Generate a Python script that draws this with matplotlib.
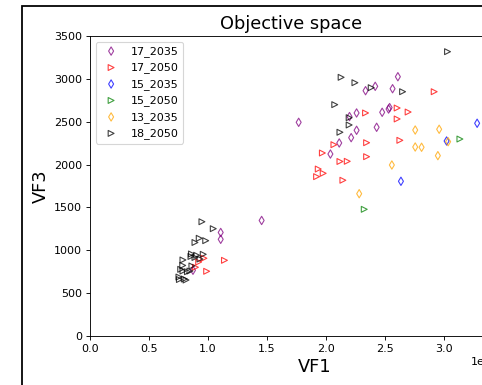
import matplotlib
matplotlib.use("Agg")
import matplotlib.pyplot as plt
from matplotlib.patches import Rectangle

# ---- data (VF1 in units of 1e6) ----
s17_2035_x = [1.108, 1.108, 0.873, 1.455, 1.769, 2.260, 2.336, 2.418, 2.565, 2.610,
              2.477, 2.531, 2.540, 2.200, 2.430, 2.260, 2.214, 2.113, 2.038]
s17_2035_y = [1208, 1128, 767, 1348, 2493, 2602, 2862, 2913, 2885, 3025,
              2610, 2648, 2665, 2560, 2435, 2400, 2314, 2252, 2123]

s17_2050_x = [0.966, 1.140, 0.921, 0.894, 0.989, 2.918, 2.336, 2.604, 2.697, 2.604,
              2.068, 2.345, 2.627, 1.970, 2.119, 2.181, 2.345, 1.935, 1.977, 1.921, 2.144]
s17_2050_y = [907, 883, 863, 802, 755, 2850, 2602, 2660, 2613, 2532,
              2232, 2255, 2283, 2135, 2036, 2038, 2092, 1948, 1898, 1859, 1817]

s15_2035_x = [3.282, 3.023, 2.636]
s15_2035_y = [2482, 2275, 1805]

s15_2050_x = [3.136, 2.325]
s15_2050_y = [2298, 1478]

s13_2035_x = [2.757, 2.960, 3.036, 2.757, 2.811, 2.949, 2.559, 2.282]
s13_2035_y = [2403, 2412, 2267, 2205, 2202, 2104, 1995, 1660]

s18_2050_x = [0.949, 1.045, 0.926, 0.981, 0.890, 0.860, 0.856, 0.904, 0.960, 0.932,
              0.890, 0.788, 0.864, 0.786, 0.769, 0.788, 0.826, 0.847, 0.754, 0.799,
              0.758, 0.814,
              2.075, 2.129, 2.246, 2.384, 2.650, 2.197, 2.197, 2.119, 3.031]
s18_2050_y = [1333, 1252, 1140, 1112, 1091, 957, 928, 942, 953, 898,
              916, 887, 817, 823, 778, 758, 750, 758, 688, 665,
              659, 653,
              2699, 3018, 2955, 2897, 2850, 2547, 2462, 2377, 3317]

series = [
    ("17_2035", s17_2035_x, s17_2035_y, "purple", "d"),
    ("17_2050", s17_2050_x, s17_2050_y, "red", ">"),
    ("15_2035", s15_2035_x, s15_2035_y, "blue", "d"),
    ("15_2050", s15_2050_x, s15_2050_y, "green", ">"),
    ("13_2035", s13_2035_x, s13_2035_y, "orange", "d"),
    ("18_2050", s18_2050_x, s18_2050_y, "black", ">"),
]

fig = plt.figure(figsize=(482 / 80, 385 / 80), dpi=80)
ax = fig.add_axes([90 / 482, 1 - 336 / 385, 402 / 482, 300 / 385])

for name, xs, ys, col, mk in series:
    ax.scatter([x * 1e6 for x in xs], ys, marker=mk, facecolors="none",
               edgecolors=col, s=28, linewidths=1.0, alpha=0.75, label=name)

ax.set_xlim(0, 3.408e6)
ax.set_ylim(0, 3500)
ax.set_title("Objective space", fontsize=16)
ax.set_xlabel("VF1", fontsize=16, x=0.56)
ax.set_ylabel("VF3", fontsize=16)
ax.legend(loc="upper left")

# outer frame (partially visible)
fig.patches.append(Rectangle((21.5 / 482, -0.2), 1.5, 1.2 - 5.5 / 385,
                             transform=fig.transFigure, fill=False,
                             edgecolor="black", linewidth=1.6, zorder=10))

fig.savefig("out.png", dpi=80)
